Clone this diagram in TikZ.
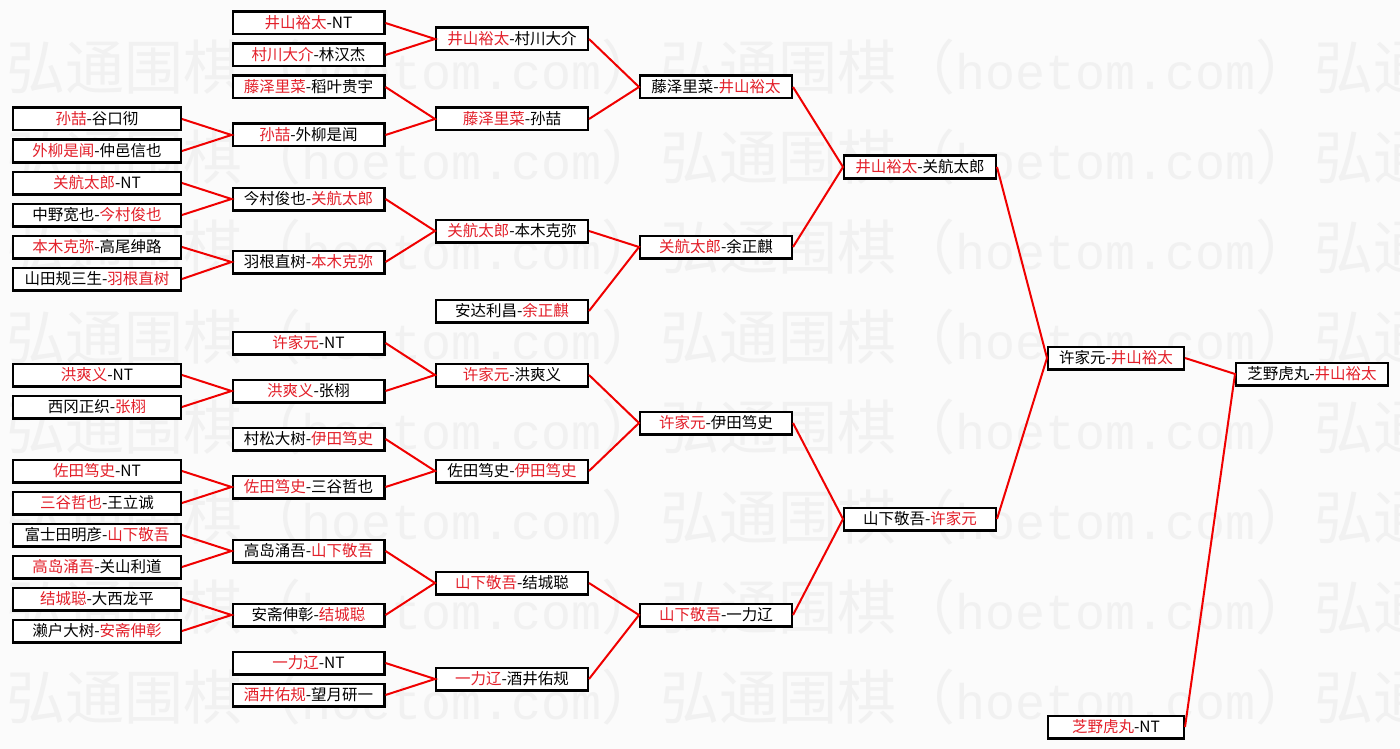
\documentclass[tikz,border=0pt]{standalone}
\usepackage{fontspec}
\usepackage{xcolor}
\usepackage{tikz}
\setmainfont{Noto Sans CJK SC}
\newfontfamily\wmmono{Liberation Mono}
\definecolor{WinRed}{HTML}{E3202A}
\definecolor{LinkRed}{HTML}{F00000}
\definecolor{PageBg}{HTML}{FBFBFB}
\definecolor{WaterGray}{HTML}{F1F1F1}
\newcommand{\won}[1]{\textcolor{WinRed}{#1}}
\newcommand{\wmrow}{弘通围棋（{\wmmono\fontsize{50}{50}\selectfont hoetom.com}）弘通围棋（{\wmmono\fontsize{50}{50}\selectfont hoetom.com}）弘通}

\begin{document}
\begin{tikzpicture}[
	x=1pt, y=-1pt,
	game/.style={draw, fill=white, line width=2.4pt, minimum width=151.6pt, minimum height=22.6pt, inner sep=0pt, font=\fontsize{15.5}{18}\selectfont},
	wide/.style={game, minimum width=167.6pt},
	narrow/.style={game, minimum width=135.6pt},
	link/.style={draw=LinkRed, line width=2pt},
	water/.style={anchor=west, inner sep=0pt, text=WaterGray, font=\fontsize{59}{60}\selectfont}
]
\useasboundingbox (0,0) rectangle (1400,749);
\fill[PageBg] (0,0) rectangle (1400,749);

% watermark rows
\node[water] (wm1) at (6,67) {\wmrow};
\node[water] (wm2) at (6,157) {\wmrow};
\node[water] (wm3) at (6,247) {\wmrow};
\node[water] (wm4) at (6,337) {\wmrow};
\node[water] (wm5) at (6,427) {\wmrow};
\node[water] (wm6) at (6,517) {\wmrow};
\node[water] (wm7) at (6,607) {\wmrow};
\node[water] (wm8) at (6,697) {\wmrow};

% first round
\node[wide] (r1-1) at (97,119) {\won{孙喆}-谷口彻};
\node[wide] (r1-2) at (97,151) {\won{外柳是闻}-仲邑信也};
\node[wide] (r1-3) at (97,183) {\won{关航太郎}-NT};
\node[wide] (r1-4) at (97,215) {中野宽也-\won{今村俊也}};
\node[wide] (r1-5) at (97,247) {\won{本木克弥}-高尾绅路};
\node[wide] (r1-6) at (97,279) {山田规三生-\won{羽根直树}};
\node[wide] (r1-7) at (97,375) {\won{洪爽义}-NT};
\node[wide] (r1-8) at (97,407) {西冈正织-\won{张栩}};
\node[wide] (r1-9) at (97,471) {\won{佐田笃史}-NT};
\node[wide] (r1-10) at (97,503) {\won{三谷哲也}-王立诚};
\node[wide] (r1-11) at (97,535) {富士田明彦-\won{山下敬吾}};
\node[wide] (r1-12) at (97,567) {\won{高岛涌吾}-关山利道};
\node[wide] (r1-13) at (97,599) {\won{结城聪}-大西龙平};
\node[wide] (r1-14) at (97,631) {濑户大树-\won{安斋伸彰}};

% second round
\node[game] (r2-1) at (308.5,23) {\won{井山裕太}-NT};
\node[game] (r2-2) at (308.5,55) {\won{村川大介}-林汉杰};
\node[game] (r2-3) at (308.5,87) {\won{藤泽里菜}-稻叶贵宇};
\node[game] (r2-4) at (308.5,135) {\won{孙喆}-外柳是闻};
\node[game] (r2-5) at (308.5,199) {今村俊也-\won{关航太郎}};
\node[game] (r2-6) at (308.5,262) {羽根直树-\won{本木克弥}};
\node[game] (r2-7) at (308.5,343) {\won{许家元}-NT};
\node[game] (r2-8) at (308.5,391) {\won{洪爽义}-张栩};
\node[game] (r2-9) at (308.5,439) {村松大树-\won{伊田笃史}};
\node[game] (r2-10) at (308.5,487) {\won{佐田笃史}-三谷哲也};
\node[game] (r2-11) at (308.5,551) {高岛涌吾-\won{山下敬吾}};
\node[game] (r2-12) at (308.5,615) {安斋伸彰-\won{结城聪}};
\node[game] (r2-13) at (308.5,663) {\won{一力辽}-NT};
\node[game] (r2-14) at (308.5,695) {\won{酒井佑规}-望月研一};

% third round
\node[game] (r3-1) at (512,39) {\won{井山裕太}-村川大介};
\node[game] (r3-2) at (512,119) {\won{藤泽里菜}-孙喆};
\node[game] (r3-3) at (512,231) {\won{关航太郎}-本木克弥};
\node[game] (r3-4) at (512,311) {安达利昌-\won{余正麒}};
\node[game] (r3-5) at (512,375) {\won{许家元}-洪爽义};
\node[game] (r3-6) at (512,471) {佐田笃史-\won{伊田笃史}};
\node[game] (r3-7) at (512,583) {\won{山下敬吾}-结城聪};
\node[game] (r3-8) at (512,679) {\won{一力辽}-酒井佑规};

% quarter finals
\node[game] (r4-1) at (716,87) {藤泽里菜-\won{井山裕太}};
\node[game] (r4-2) at (716,247) {\won{关航太郎}-余正麒};
\node[game] (r4-3) at (716,423) {\won{许家元}-伊田笃史};
\node[game] (r4-4) at (716,615) {\won{山下敬吾}-一力辽};

% semi finals
\node[game] (r5-1) at (920,167) {\won{井山裕太}-关航太郎};
\node[game] (r5-2) at (920,519) {山下敬吾-\won{许家元}};

% final
\node[narrow] (r6-1) at (1116,358) {许家元-\won{井山裕太}};
\node[narrow] (seed) at (1116,727) {\won{芝野虎丸}-NT};
\node[game] (final) at (1312,374) {芝野虎丸-\won{井山裕太}};

\draw[link] (r1-1.east) -- (r2-4.west) -- (r1-2.east);
\draw[link] (r1-3.east) -- (r2-5.west) -- (r1-4.east);
\draw[link] (r1-5.east) -- (r2-6.west) -- (r1-6.east);
\draw[link] (r1-7.east) -- (r2-8.west) -- (r1-8.east);
\draw[link] (r1-9.east) -- (r2-10.west) -- (r1-10.east);
\draw[link] (r1-11.east) -- (r2-11.west) -- (r1-12.east);
\draw[link] (r1-13.east) -- (r2-12.west) -- (r1-14.east);

\draw[link] (r2-1.east) -- (r3-1.west) -- (r2-2.east);
\draw[link] (r2-3.east) -- (r3-2.west) -- (r2-4.east);
\draw[link] (r2-5.east) -- (r3-3.west) -- (r2-6.east);
\draw[link] (r2-7.east) -- (r3-5.west) -- (r2-8.east);
\draw[link] (r2-9.east) -- (r3-6.west) -- (r2-10.east);
\draw[link] (r2-11.east) -- (r3-7.west) -- (r2-12.east);
\draw[link] (r2-13.east) -- (r3-8.west) -- (r2-14.east);

\draw[link] (r3-1.east) -- (r4-1.west) -- (r3-2.east);
\draw[link] (r3-3.east) -- (r4-2.west) -- (r3-4.east);
\draw[link] (r3-5.east) -- (r4-3.west) -- (r3-6.east);
\draw[link] (r3-7.east) -- (r4-4.west) -- (r3-8.east);

\draw[link] (r4-1.east) -- (r5-1.west) -- (r4-2.east);
\draw[link] (r4-3.east) -- (r5-2.west) -- (r4-4.east);

\draw[link] (r5-1.east) -- (r6-1.west) -- (r5-2.east);
\draw[link] (r6-1.east) -- (final.west) -- (seed.east);
\end{tikzpicture}
\end{document}
